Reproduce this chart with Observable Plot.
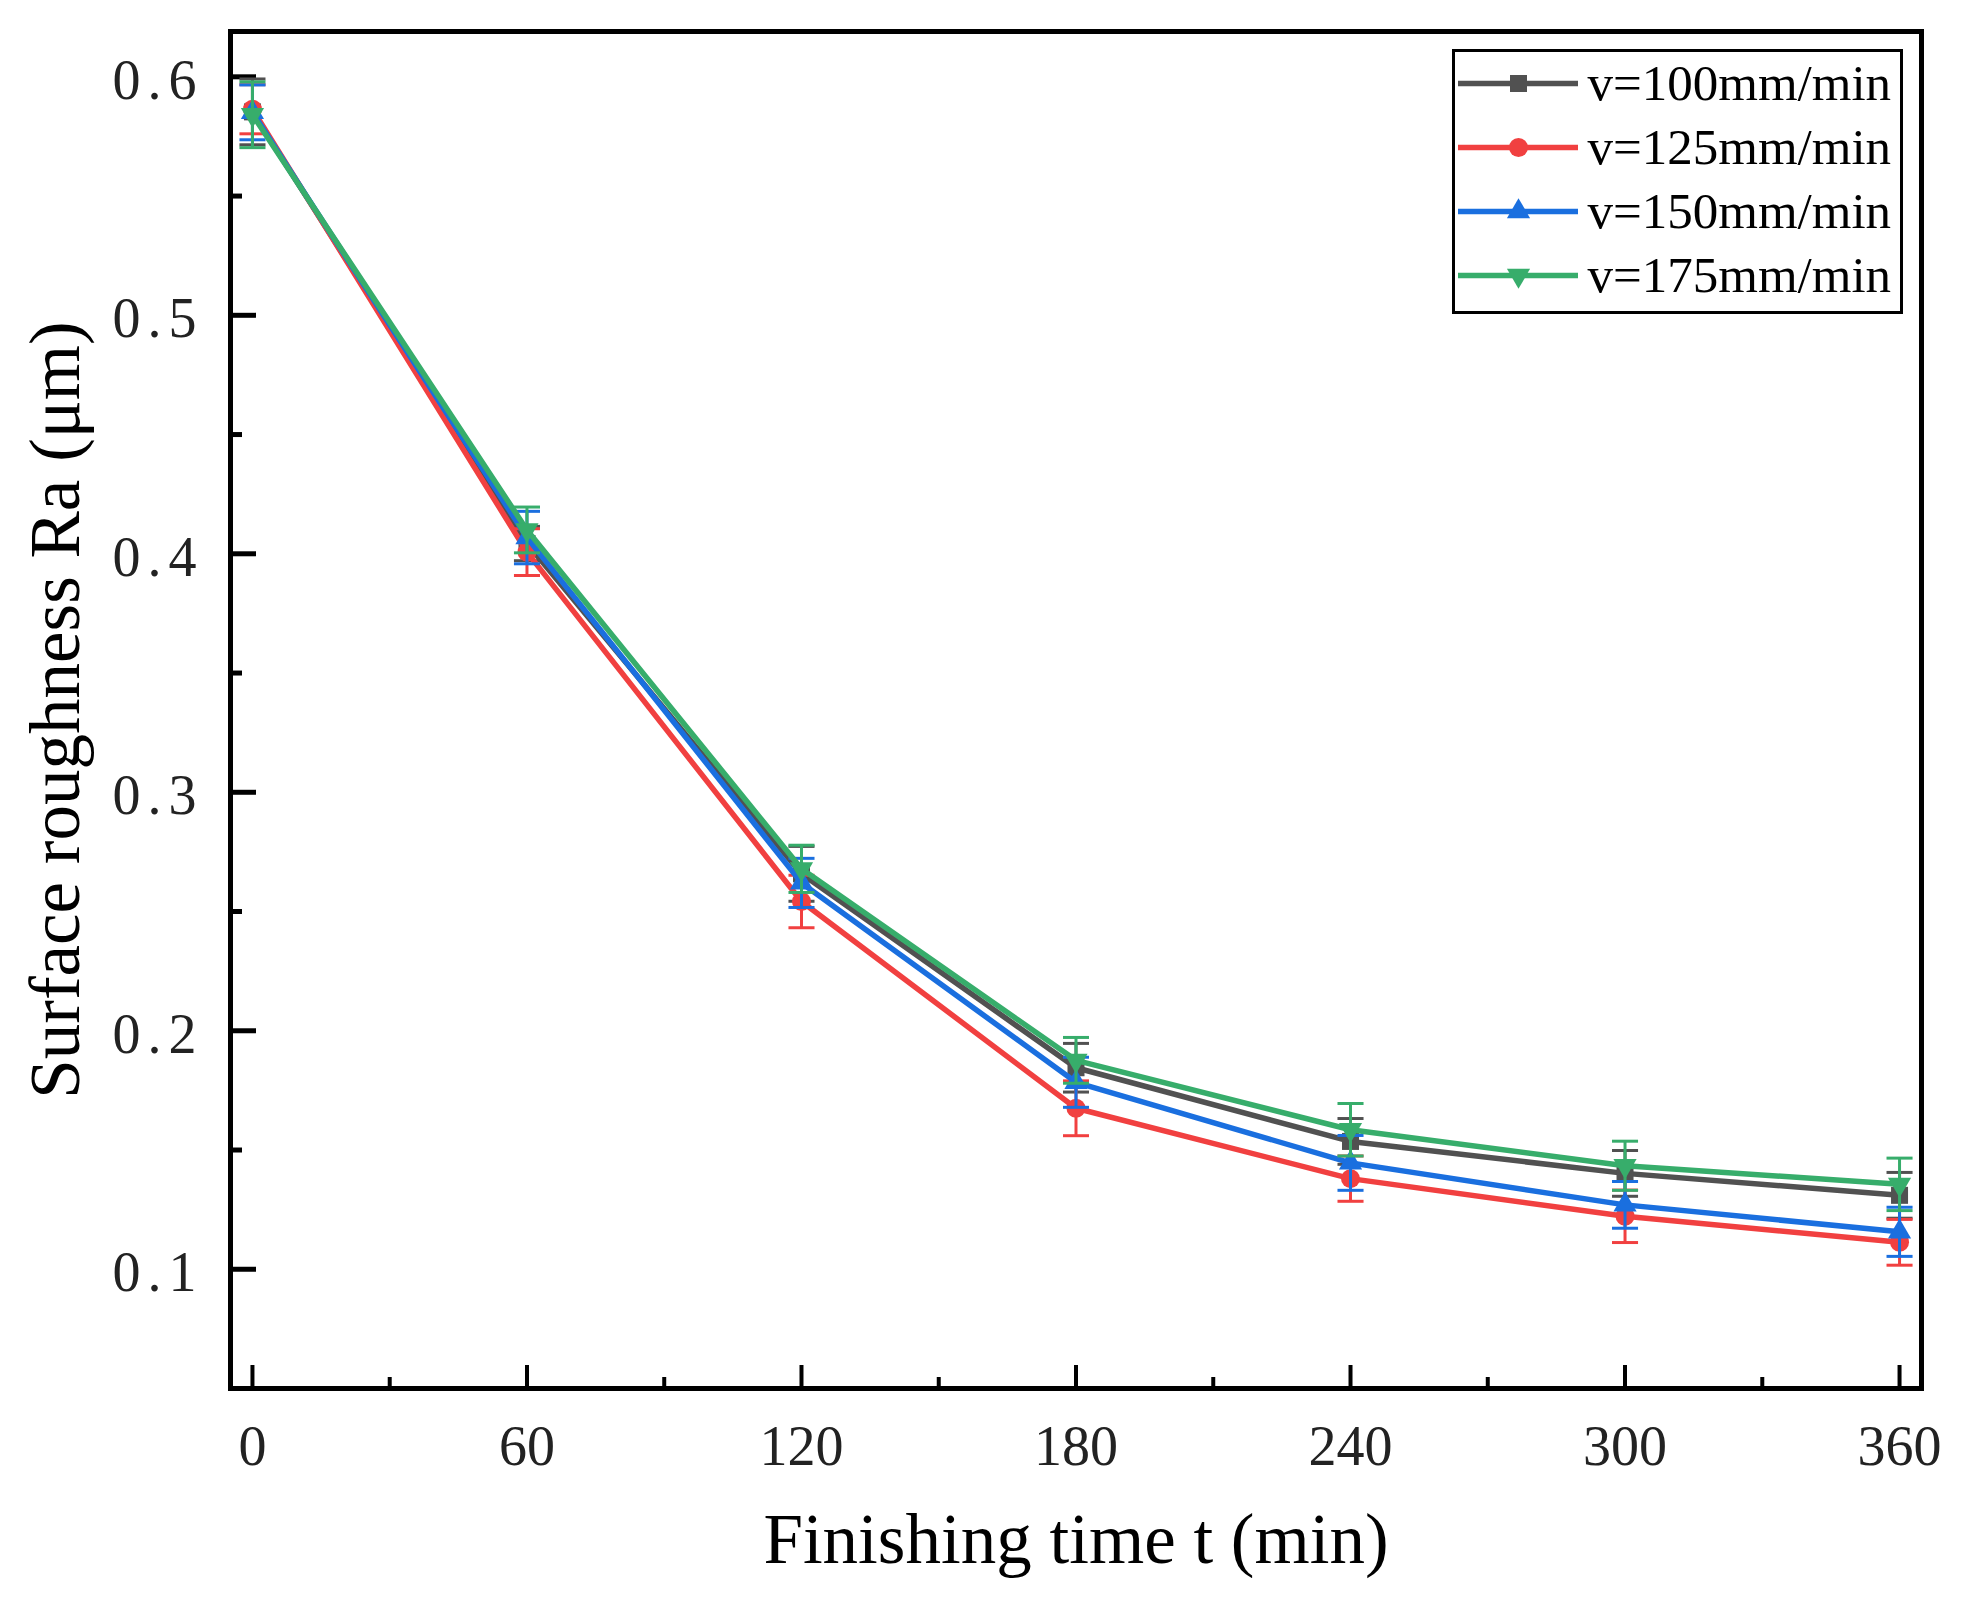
<!DOCTYPE html>
<html>
<head>
<meta charset="utf-8">
<script src="https://cdn.jsdelivr.net/npm/d3@7"></script>
<script src="https://cdn.jsdelivr.net/npm/@observablehq/plot@0.6"></script>
<style>
  body { margin: 0; background: #fff; }
  #wrap { position: relative; width: 1969px; height: 1604px; }
  #legend { position: absolute; left: 1451px; top: 48px; }
</style>
</head>
<body>
<div id="wrap"><div id="chart"></div><div id="legend"></div></div>
<script>
// ---------- data ----------
const times = [0, 60, 120, 180, 240, 300, 360];
const seriesNames = ["v=100mm/min", "v=125mm/min", "v=150mm/min", "v=175mm/min"];
const seriesColors = ["#515151", "#F14040", "#1A6FDF", "#37AD6B"];

const v100 = [0.5853, 0.4043, 0.2658, 0.1845, 0.1536, 0.1402, 0.1310];
const v125 = [0.5864, 0.4007, 0.2542, 0.1675, 0.1380, 0.1222, 0.1113];
const v150 = [0.5851, 0.4068, 0.2620, 0.1784, 0.1446, 0.1270, 0.1157];
const v175 = [0.5841, 0.4100, 0.2679, 0.1876, 0.1585, 0.1434, 0.1356];

const e100 = [0.0138, 0.0072, 0.0115, 0.0102, 0.0096, 0.0096, 0.0096];
const e125 = [0.0103, 0.0098, 0.0110, 0.0115, 0.0095, 0.0110, 0.0096];
const e150 = [0.0115, 0.0110, 0.0103, 0.0105, 0.0115, 0.0098, 0.0103];
const e175 = [0.0138, 0.0096, 0.0099, 0.0096, 0.0110, 0.0103, 0.0110];

const xTicks = [0, 60, 120, 180, 240, 300, 360];
const xMinorTicks = [30, 90, 150, 210, 270, 330];
const yTicks = [0.1, 0.2, 0.3, 0.4, 0.5, 0.6];
const yMinorTicks = [0.15, 0.25, 0.35, 0.45, 0.55];

const xTitle = "Finishing time t (min)";
const yTitle = "Surface roughness Ra (\u03bcm)";

// ---------- build table ----------
const allValues = [v100, v125, v150, v175];
const allErrors = [e100, e125, e150, e175];
const rows = [];
seriesNames.forEach((s, i) => {
  times.forEach((t, j) => rows.push({series: s, t, v: allValues[i][j], e: allErrors[i][j]}));
});

// ---------- symbols ----------
const triangleDown = {
  draw(ctx, size) {
    const s3 = Math.sqrt(3);
    const y = Math.sqrt(size / (s3 * 3));
    ctx.moveTo(0, 2 * y);
    ctx.lineTo(-s3 * y, -y);
    ctx.lineTo(s3 * y, -y);
    ctx.closePath();
  }
};
const capSymbol = {
  draw(ctx, size) {
    const w = Math.sqrt(size);
    ctx.moveTo(-w / 2, 0);
    ctx.lineTo(w / 2, 0);
  }
};
const seriesSymbols = [d3.symbolSquare, d3.symbolCircle, d3.symbolTriangle, triangleDown];
const seriesR = [9.6, 9.5, 8.6, 8.6];

// ---------- layout ----------
const W = 1969, H = 1604;
const mL = 230, mR = 48, mT = 31, mB = 216;
const innerW = W - mL - mR, innerH = H - mT - mB;
const font = "'Liberation Serif', 'Times New Roman', serif";

const marks = [];
// ticks (inward)
marks.push(Plot.tickX(xTicks, {x: d => d, insetTop: innerH - 23, stroke: "black", strokeWidth: 4}));
marks.push(Plot.tickX(xMinorTicks, {x: d => d, insetTop: innerH - 11, stroke: "black", strokeWidth: 4}));
marks.push(Plot.tickY(yTicks, {y: d => d, insetRight: innerW - 26, stroke: "black", strokeWidth: 5}));
marks.push(Plot.tickY(yMinorTicks, {y: d => d, insetRight: innerW - 12, stroke: "black", strokeWidth: 5}));

seriesNames.forEach((s, i) => {
  const data = rows.filter(d => d.series === s);
  const c = seriesColors[i];
  marks.push(Plot.line(data, {x: "t", y: "v", stroke: c, strokeWidth: 5.5}));
  marks.push(Plot.ruleX(data, {x: "t", y1: d => d.v - d.e, y2: d => d.v + d.e, stroke: c, strokeWidth: 3}));
  marks.push(Plot.dot(data, {x: "t", y: d => d.v + d.e, symbol: capSymbol, r: 14.7, stroke: c, fill: "none", strokeWidth: 3}));
  marks.push(Plot.dot(data, {x: "t", y: d => d.v - d.e, symbol: capSymbol, r: 14.7, stroke: c, fill: "none", strokeWidth: 3}));
  marks.push(Plot.dot(data, {x: "t", y: "v", symbol: seriesSymbols[i], r: seriesR[i], fill: c, stroke: "none"}));
});

marks.push(Plot.frame({stroke: "black", strokeWidth: 5}));
marks.push(Plot.axisX({ticks: xTicks, tickSize: 0, tickPadding: 37, fontSize: 56, fill: "#222", label: null}));
marks.push(Plot.axisY({ticks: yTicks, tickSize: 0, tickPadding: 27, dy: 4, fontSize: 56, fill: "#222", label: null, tickFormat: d => d.toFixed(1)}));
marks.push(Plot.text([xTitle], {text: d => d, frameAnchor: "bottom", lineAnchor: "middle", textAnchor: "middle", dy: 152, fontSize: 71, fill: "black"}));
marks.push(Plot.text([yTitle], {text: d => d, frameAnchor: "left", lineAnchor: "middle", textAnchor: "middle", dx: -174, rotate: -90, fontSize: 71, fill: "black"}));

const chart = Plot.plot({
  width: W, height: H,
  marginLeft: mL, marginRight: mR, marginTop: mT, marginBottom: mB,
  x: {domain: [-4.8, 364.8]},
  y: {domain: [0.05, 0.619]},
  style: {fontFamily: font, fontSize: "56px", background: "white", color: "black", overflow: "visible"},
  marks
});
chart.querySelectorAll('g[aria-label="y-axis tick label"] text').forEach(t => t.setAttribute("letter-spacing", "7"));
document.getElementById("chart").append(chart);

// ---------- legend ----------
const legendMarks = [Plot.frame({fill: "white", stroke: "black", strokeWidth: 3})];
seriesNames.forEach((s, i) => {
  legendMarks.push(Plot.ruleY([s], {y: d => d, x1: 5, x2: 125, stroke: seriesColors[i], strokeWidth: 5.5}));
  legendMarks.push(Plot.dot([s], {y: d => d, x: 65, symbol: seriesSymbols[i], r: seriesR[i], fill: seriesColors[i], stroke: "none"}));
  legendMarks.push(Plot.text([s], {y: d => d, x: 134, text: d => d, textAnchor: "start", lineAnchor: "middle", fontSize: 51, fill: "black"}));
});
const legend = Plot.plot({
  width: 452, height: 266,
  marginLeft: 2, marginRight: 2, marginTop: 2, marginBottom: 2,
  x: {domain: [0, 448], range: [2, 450], axis: null},
  y: {type: "point", domain: seriesNames, range: [34, 228], padding: 0, axis: null},
  style: {fontFamily: font, background: "transparent", overflow: "visible"},
  marks: legendMarks
});
document.getElementById("legend").append(legend);
</script>
</body>
</html>
